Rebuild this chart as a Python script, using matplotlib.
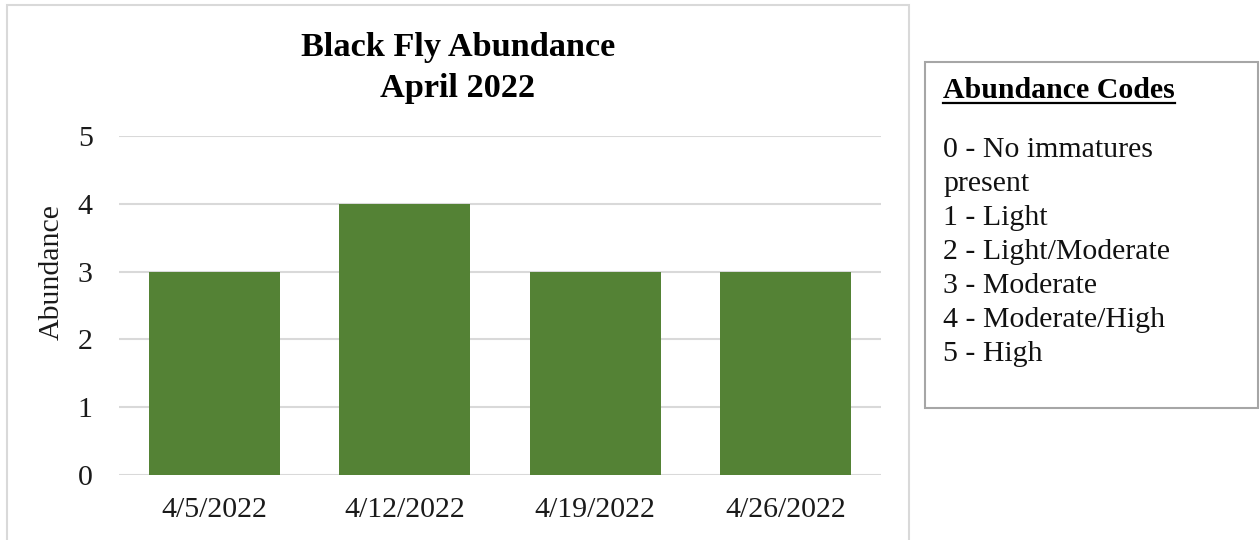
import matplotlib.pyplot as plt
from matplotlib.patches import Rectangle
from matplotlib.lines import Line2D

dates = ["4/5/2022", "4/12/2022", "4/19/2022", "4/26/2022"]
abundance = [3, 4, 3, 3]
yticks = [0, 1, 2, 3, 4, 5]
codes = ["0 - No immatures", "present", "1 - Light", "2 - Light/Moderate",
         "3 - Moderate", "4 - Moderate/High", "5 - High"]

W, H = 1260, 540
plt.rcParams['font.family'] = ['Liberation Serif', 'DejaVu Serif']
fs = 21.5

fig = plt.figure(figsize=(W / 100, H / 100), dpi=100)

# outer chart frame (bottom edge runs off the page)
fig.add_artist(Rectangle((7 / W, -0.2), 902 / W, (H - 5) / H + 0.2,
                         transform=fig.transFigure, fill=False,
                         edgecolor="#d9d9d9", lw=1.5))

ax = fig.add_axes([119 / W, (H - 475) / H, 762 / W, 339 / H])
x = range(len(dates))
ax.bar(x, abundance, width=0.69, color="#548235", zorder=2)
ax.set_xlim(-0.5, len(dates) - 0.5)
ax.set_ylim(0, 5)
ax.set_yticks(yticks)
ax.set_xticks(list(x))
ax.set_xticklabels(dates)
ax.grid(axis="y", color="#d9d9d9", lw=1.5, zorder=0)
for s in ax.spines.values():
    s.set_visible(False)
ax.tick_params(length=0, labelsize=fs, colors="#1a1a1a")
ax.tick_params(axis="y", pad=19)
ax.tick_params(axis="x", pad=16)

fig.text(52 / W, 1 - 272 / H, "Abundance", rotation=90, ha="center",
         va="center", fontsize=fs, color="#1a1a1a")

fig.text(458 / W, 1 - 56 / H, "Black Fly Abundance", ha="center",
         va="baseline", fontsize=24.7, fontweight="bold")
fig.text(458 / W, 1 - 97 / H, "April 2022", ha="center",
         va="baseline", fontsize=24.7, fontweight="bold")

# abundance code key on the right
fig.add_artist(Rectangle((925 / W, 1 - 408 / H), 333 / W, 346 / H,
                         transform=fig.transFigure, fill=False,
                         edgecolor="#a6a6a6", lw=1.5))
head = fig.text(943 / W, 1 - 98 / H, "Abundance Codes", ha="left",
                va="baseline", fontsize=fs, fontweight="bold")
fig.canvas.draw()
bb = head.get_window_extent().transformed(fig.transFigure.inverted())
fig.add_artist(Line2D([bb.x0, bb.x1], [1 - 103 / H] * 2,
                      transform=fig.transFigure, color="black", lw=1.6))

for i, line in enumerate(codes):
    fig.text(943 / W, 1 - (157 + 34 * i) / H, line, ha="left",
             va="baseline", fontsize=fs, color="#111111")

fig.savefig("out.png", dpi=100, facecolor="white")
